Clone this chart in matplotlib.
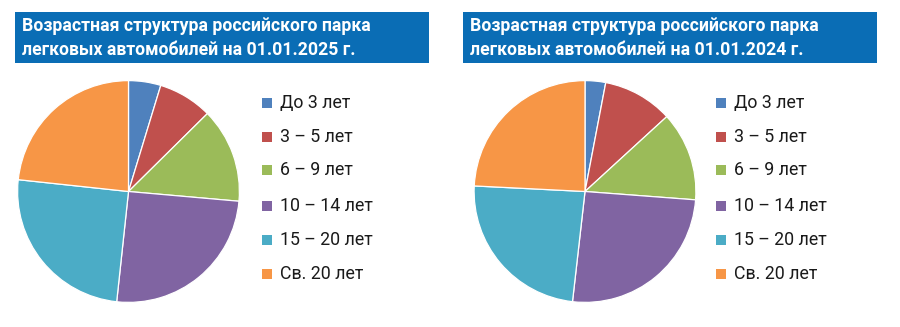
import matplotlib
matplotlib.use("Agg")
import matplotlib.pyplot as plt
from matplotlib.patches import Rectangle

# Age groups of the passenger car fleet (shares, %)
categories = ["До 3 лет", "3 – 5 лет", "6 – 9 лет", "10 – 14 лет", "15 – 20 лет", "Св. 20 лет"]
share_2025 = [4.7, 7.9, 13.8, 25.3, 25.0, 23.3]
share_2024 = [3.0, 10.2, 13.0, 25.6, 24.0, 24.2]
titles = [
    "Возрастная структура российского парка\nлегковых автомобилей на 01.01.2025 г.",
    "Возрастная структура российского парка\nлегковых автомобилей на 01.01.2024 г.",
]
colors = ["#4F81BD", "#C0504D", "#9BBB59", "#8064A2", "#4BACC6", "#F79646"]

FONTS = ["Roboto", "DejaVu Sans"]
W, H = 900, 327
fig = plt.figure(figsize=(W / 100, H / 100), dpi=100)
fig.patch.set_facecolor("white")


def fx(px):
    return px / W


def fy(py):
    return 1 - py / H


panels = [
    dict(values=share_2025, title=titles[0], cx=128.5, cy=191.5, box_x=15, leg_x=262),
    dict(values=share_2024, title=titles[1], cx=585.0, cy=191.5, box_x=463, leg_x=716),
]
R = 112
box_w, box_top, box_bot = 414, 12, 63
leg_rows = [103, 137, 170, 206, 240, 274]

for p in panels:
    # title bar
    fig.patches.append(Rectangle((fx(p["box_x"]), fy(box_bot)), fx(box_w), (box_bot - box_top) / H,
                                 transform=fig.transFigure, facecolor="#0A6DB5",
                                 edgecolor="none", zorder=0))
    fig.text(fx(p["box_x"] + 7), fy((box_top + box_bot) / 2 + 0.5), p["title"], color="white",
             fontsize=12.7, fontweight="bold", family=FONTS, va="center", ha="left",
             linespacing=1.4)

    # pie
    ax = fig.add_axes([fx(p["cx"] - R), fy(p["cy"] + R), 2 * R / W, 2 * R / H])
    ax.pie(p["values"], colors=colors, startangle=90, counterclock=False, radius=1,
           wedgeprops=dict(edgecolor="white", linewidth=0.9))
    ax.set_xlim(-1.01, 1.01)
    ax.set_ylim(-1.01, 1.01)
    ax.set_aspect("equal")
    ax.axis("off")

    # legend
    for lab, col, ry in zip(categories, colors, leg_rows):
        fig.patches.append(Rectangle((fx(p["leg_x"]), fy(ry + 5)), fx(10), 10 / H,
                                     transform=fig.transFigure, facecolor=col,
                                     edgecolor="none"))
        fig.text(fx(p["leg_x"] + 18), fy(ry), lab, color="#1a1a1a", fontsize=12.8,
                 family=FONTS, va="center", ha="left")

fig.savefig("out.png", dpi=100, facecolor="white")
